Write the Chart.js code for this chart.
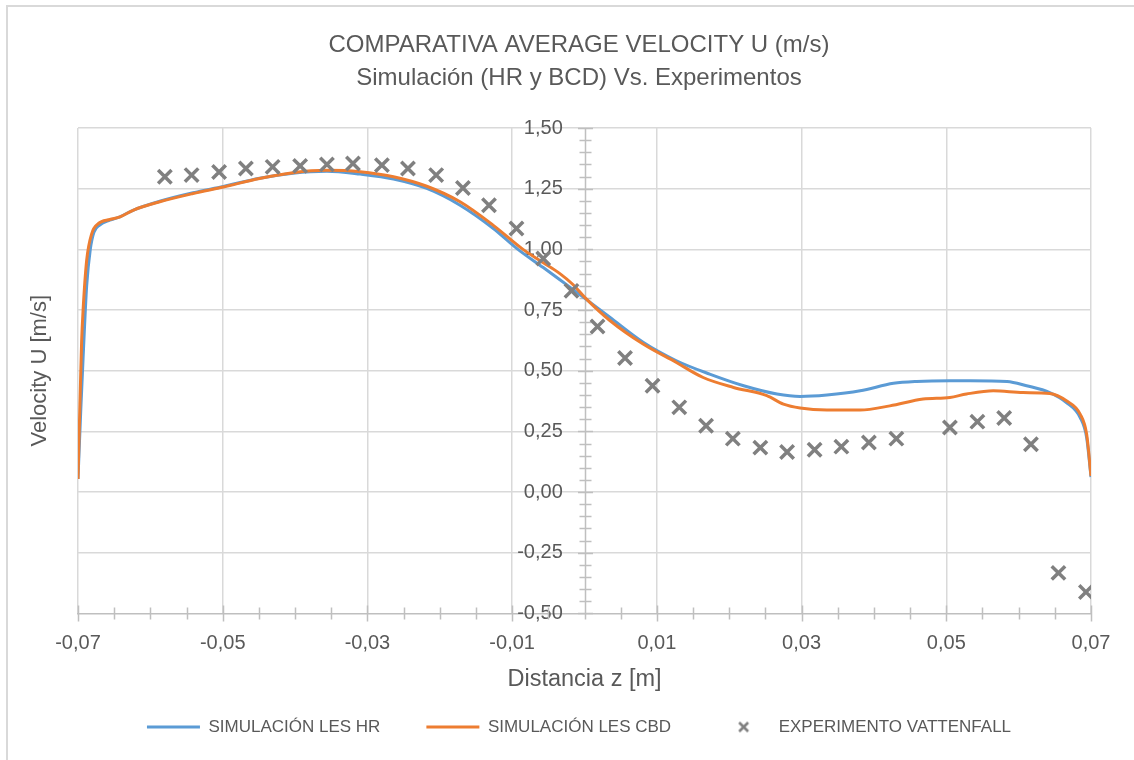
<!DOCTYPE html>
<html>
<head>
<meta charset="utf-8">
<script src="https://cdn.jsdelivr.net/npm/chart.js@4.4.1/dist/chart.umd.min.js"></script>
<style>
  html, body { margin: 0; padding: 0; background: #fff; }
  #wrap { width: 1134px; height: 760px; position: relative; }
</style>
</head>
<body>
<div id="wrap"><canvas id="myChart"></canvas></div>
<script>
// Simulación LES HR (blue)
const zHR = [-0.0700, -0.0696, -0.0693, -0.0688, -0.0683, -0.0678, -0.0670, -0.0656, -0.0642, -0.0624,
  -0.0587, -0.0541, -0.0499, -0.0449, -0.0403, -0.0356, -0.0310, -0.0264, -0.0218, -0.0172,
  -0.0126, -0.0092, -0.0057, -0.0034, -0.0016, 0.0001, 0.0035, 0.0081, 0.0127, 0.0173,
  0.0220, 0.0266, 0.0298, 0.0335, 0.0381, 0.0427, 0.0459, 0.0505, 0.0533, 0.0584,
  0.0611, 0.0643, 0.0666, 0.0685, 0.0694, 0.0700];
const uHR = [0.054, 0.35, 0.55, 0.85, 1.00, 1.07, 1.10, 1.12, 1.134, 1.161,
  1.198, 1.233, 1.259, 1.293, 1.314, 1.322, 1.310, 1.290, 1.251, 1.182,
  1.086, 1.000, 0.925, 0.875, 0.835, 0.797, 0.720, 0.617, 0.541, 0.486,
  0.438, 0.404, 0.394, 0.400, 0.417, 0.448, 0.456, 0.459, 0.459, 0.456,
  0.438, 0.410, 0.369, 0.307, 0.224, 0.062];

// Simulación LES CBD (orange)
const zCBD = [-0.0700, -0.0697, -0.0695, -0.0693, -0.0688, -0.0681, -0.0672, -0.0656, -0.0642, -0.0624,
  -0.0587, -0.0541, -0.0499, -0.0449, -0.0403, -0.0356, -0.0310, -0.0264, -0.0218, -0.0172,
  -0.0126, -0.0085, -0.0057, -0.0034, -0.0016, 0.0001, 0.0035, 0.0081, 0.0127, 0.0164,
  0.0206, 0.0252, 0.0275, 0.0298, 0.0335, 0.0381, 0.0422, 0.0468, 0.0505, 0.0528,
  0.0565, 0.0606, 0.0643, 0.0666, 0.0685, 0.0694, 0.0700];
const uCBD = [0.054, 0.40, 0.62, 0.748, 0.955, 1.065, 1.106, 1.123, 1.134, 1.161,
  1.196, 1.230, 1.257, 1.292, 1.316, 1.326, 1.320, 1.299, 1.260, 1.196,
  1.099, 1.000, 0.945, 0.900, 0.855, 0.800, 0.707, 0.610, 0.534, 0.472,
  0.431, 0.397, 0.362, 0.346, 0.338, 0.338, 0.355, 0.383, 0.390, 0.404,
  0.417, 0.410, 0.406, 0.376, 0.321, 0.238, 0.066];

// Experimento Vattenfall (markers)
const zExp = [-0.0580, -0.0543, -0.0505, -0.0468, -0.0431, -0.0393, -0.0356, -0.0320, -0.0280, -0.0244,
  -0.0205, -0.0168, -0.0132, -0.0094, -0.0057, -0.0018, 0.0018, 0.0056, 0.0094, 0.0131,
  0.0168, 0.0205, 0.0243, 0.0280, 0.0318, 0.0355, 0.0393, 0.0431, 0.0505, 0.0543,
  0.0580, 0.0617, 0.0655, 0.0693];
const uExp = [1.299, 1.306, 1.319, 1.333, 1.340, 1.344, 1.350, 1.354, 1.347, 1.333,
  1.306, 1.253, 1.182, 1.086, 0.962, 0.829, 0.682, 0.552, 0.438, 0.349,
  0.273, 0.220, 0.183, 0.165, 0.174, 0.187, 0.204, 0.220, 0.266, 0.290,
  0.305, 0.197, -0.333, -0.412];

const xTicks = [-0.07, -0.05, -0.03, -0.01, 0.01, 0.03, 0.05, 0.07];
const yTicks = [-0.5, -0.25, 0, 0.25, 0.5, 0.75, 1.0, 1.25, 1.5];
const xMinorStep = 0.005;
const yMinorStep = 0.05;
const yLabelsAt = -0.003;   // y labels sit a little left of the z = 0 axis

const textColor = '#595959';
const gridColor = '#d9d9d9';
const axisColor = '#bfbfbf';

Chart.defaults.font.family = "'Liberation Sans', Arial, sans-serif";
Chart.defaults.color = textColor;

const fmt = v => Number(v).toFixed(2).replace('.', ',');
const toPoints = (xs, ys) => xs.map((x, i) => ({ x: x, y: ys[i] }));

// small x for the legend (the built-in one gets stretched by pointStyleWidth)
const legendCross = document.createElement('canvas');
legendCross.width = 13;
legendCross.height = 13;
(function () {
    const c = legendCross.getContext('2d');
    c.strokeStyle = '#808080';
    c.lineWidth = 2.6;
    c.beginPath();
    c.moveTo(2, 2); c.lineTo(11, 11);
    c.moveTo(11, 2); c.lineTo(2, 11);
    c.stroke();
})();

// white background + outer chart border
const chartFrame = {
    id: 'chartFrame',
    beforeDraw(chart) {
        const ctx = chart.ctx;
        ctx.save();
        ctx.fillStyle = '#fff';
        ctx.fillRect(0, 0, chart.width, chart.height);
        ctx.strokeStyle = gridColor;
        ctx.lineWidth = 2;
        ctx.strokeRect(7, 6, chart.width + 20, chart.height + 20);
        ctx.restore();
    }
};

// vertical axis at z = 0 plus Excel style "cross" tick marks
const crossTicks = {
    id: 'crossTicks',
    beforeDatasetsDraw(chart) {
        const { ctx, chartArea, scales } = chart;
        const xs = scales.x, ys = scales.y0;
        const axisX = Math.round(xs.getPixelForValue(0)) + 0.5;
        const axisY = chartArea.bottom;
        ctx.save();
        ctx.strokeStyle = axisColor;
        ctx.lineWidth = 1.5;
        ctx.beginPath();
        ctx.moveTo(axisX, chartArea.top);
        ctx.lineTo(axisX, chartArea.bottom);
        const nY = Math.round((ys.max - ys.min) / yMinorStep);
        for (let i = 0; i <= nY; i++) {
            const py = Math.round(ys.getPixelForValue(ys.min + i * yMinorStep)) + 0.5;
            const h = (i % 5 === 0) ? 7.5 : 6;
            ctx.moveTo(axisX - h, py);
            ctx.lineTo(axisX + h, py);
        }
        const nX = Math.round((xs.max - xs.min) / xMinorStep);
        for (let i = 0; i <= nX; i++) {
            const px = Math.round(xs.getPixelForValue(xs.min + i * xMinorStep)) + 0.5;
            const h = (i % 4 === 0) ? 8 : 6;
            ctx.moveTo(px, axisY - h);
            ctx.lineTo(px, axisY + h);
        }
        ctx.stroke();
        ctx.restore();
    }
};

new Chart('myChart', {
    type: 'scatter',
    data: {
        datasets: [
            {
                label: 'SIMULACIÓN LES HR',
                data: toPoints(zHR, uHR),
                showLine: true,
                borderColor: '#5b9bd5',
                backgroundColor: '#5b9bd5',
                borderWidth: 3,
                pointRadius: 0,
                pointStyle: 'line',
                cubicInterpolationMode: 'monotone',
                order: 3
            },
            {
                label: 'SIMULACIÓN LES CBD',
                data: toPoints(zCBD, uCBD),
                showLine: true,
                borderColor: '#ed7d31',
                backgroundColor: '#ed7d31',
                borderWidth: 3,
                pointRadius: 0,
                pointStyle: 'line',
                cubicInterpolationMode: 'monotone',
                order: 2
            },
            {
                label: 'EXPERIMENTO VATTENFALL',
                data: toPoints(zExp, uExp),
                showLine: false,
                pointStyle: 'crossRot',
                pointRadius: 9.5,
                pointHoverRadius: 9.5,
                borderColor: '#808080',
                backgroundColor: '#808080',
                borderWidth: 3.5,
                order: 1
            }
        ]
    },
    options: {
        responsive: true,
        maintainAspectRatio: false,
        animation: false,
        devicePixelRatio: 1,
        layout: { padding: { left: 67, right: 43, top: 0, bottom: 14.5 } },
        scales: {
            x: {
                type: 'linear',
                min: -0.07,
                max: 0.07,
                afterBuildTicks: s => { s.ticks = xTicks.map(v => ({ value: v })); },
                ticks: { callback: fmt, font: { size: 20 }, padding: 18, maxRotation: 0, autoSkip: false, color: textColor },
                grid: { color: gridColor, lineWidth: 1.5, drawTicks: false },
                border: { color: axisColor, width: 1.5 },
                title: {
                    display: true,
                    text: 'Distancia z [m]',
                    color: textColor,
                    font: { size: 23.5 },
                    padding: { top: -7.5, bottom: -21.6 }
                }
            },
            y: {
                type: 'linear',
                position: 'left',
                min: -0.5,
                max: 1.5,
                afterBuildTicks: s => { s.ticks = yTicks.map(v => ({ value: v })); },
                ticks: { display: false },
                grid: {
                    color: c => (c.tick && c.tick.value === -0.5) ? 'rgba(0,0,0,0)' : gridColor,
                    lineWidth: 1.5,
                    drawTicks: false
                },
                border: { display: false },
                title: {
                    display: true,
                    text: 'Velocity U [m/s]',
                    color: textColor,
                    font: { size: 22 },
                    padding: { top: -40.2, bottom: 24.8 }
                }
            },
            y0: {
                type: 'linear',
                axis: 'y',
                position: { x: yLabelsAt },
                min: -0.5,
                max: 1.5,
                afterBuildTicks: s => { s.ticks = yTicks.map(v => ({ value: v })); },
                ticks: { callback: fmt, font: { size: 20 }, color: textColor },
                grid: { drawOnChartArea: false, drawTicks: false },
                border: { display: false }
            }
        },
        plugins: {
            title: {
                display: true,
                text: ['COMPARATIVA AVERAGE VELOCITY U (m/s)', 'Simulación (HR y BCD) Vs. Experimentos'],
                color: textColor,
                font: { size: 24, weight: 'normal', lineHeight: 1.375 },
                padding: { top: 28.5, bottom: 33.5 }
            },
            legend: {
                position: 'bottom',
                labels: {
                    usePointStyle: true,
                    pointStyleWidth: 53,
                    boxHeight: 11,
                    padding: 46,
                    color: textColor,
                    font: { size: 17 },
                    sort: (a, b) => a.datasetIndex - b.datasetIndex,
                    generateLabels: chart => {
                        const items = Chart.defaults.plugins.legend.labels.generateLabels(chart);
                        items.forEach(it => {
                            if (it.pointStyle === 'crossRot') it.pointStyle = legendCross;
                        });
                        return items;
                    }
                }
            },
            tooltip: { enabled: false }
        }
    },
    plugins: [chartFrame, crossTicks]
});
</script>
</body>
</html>
